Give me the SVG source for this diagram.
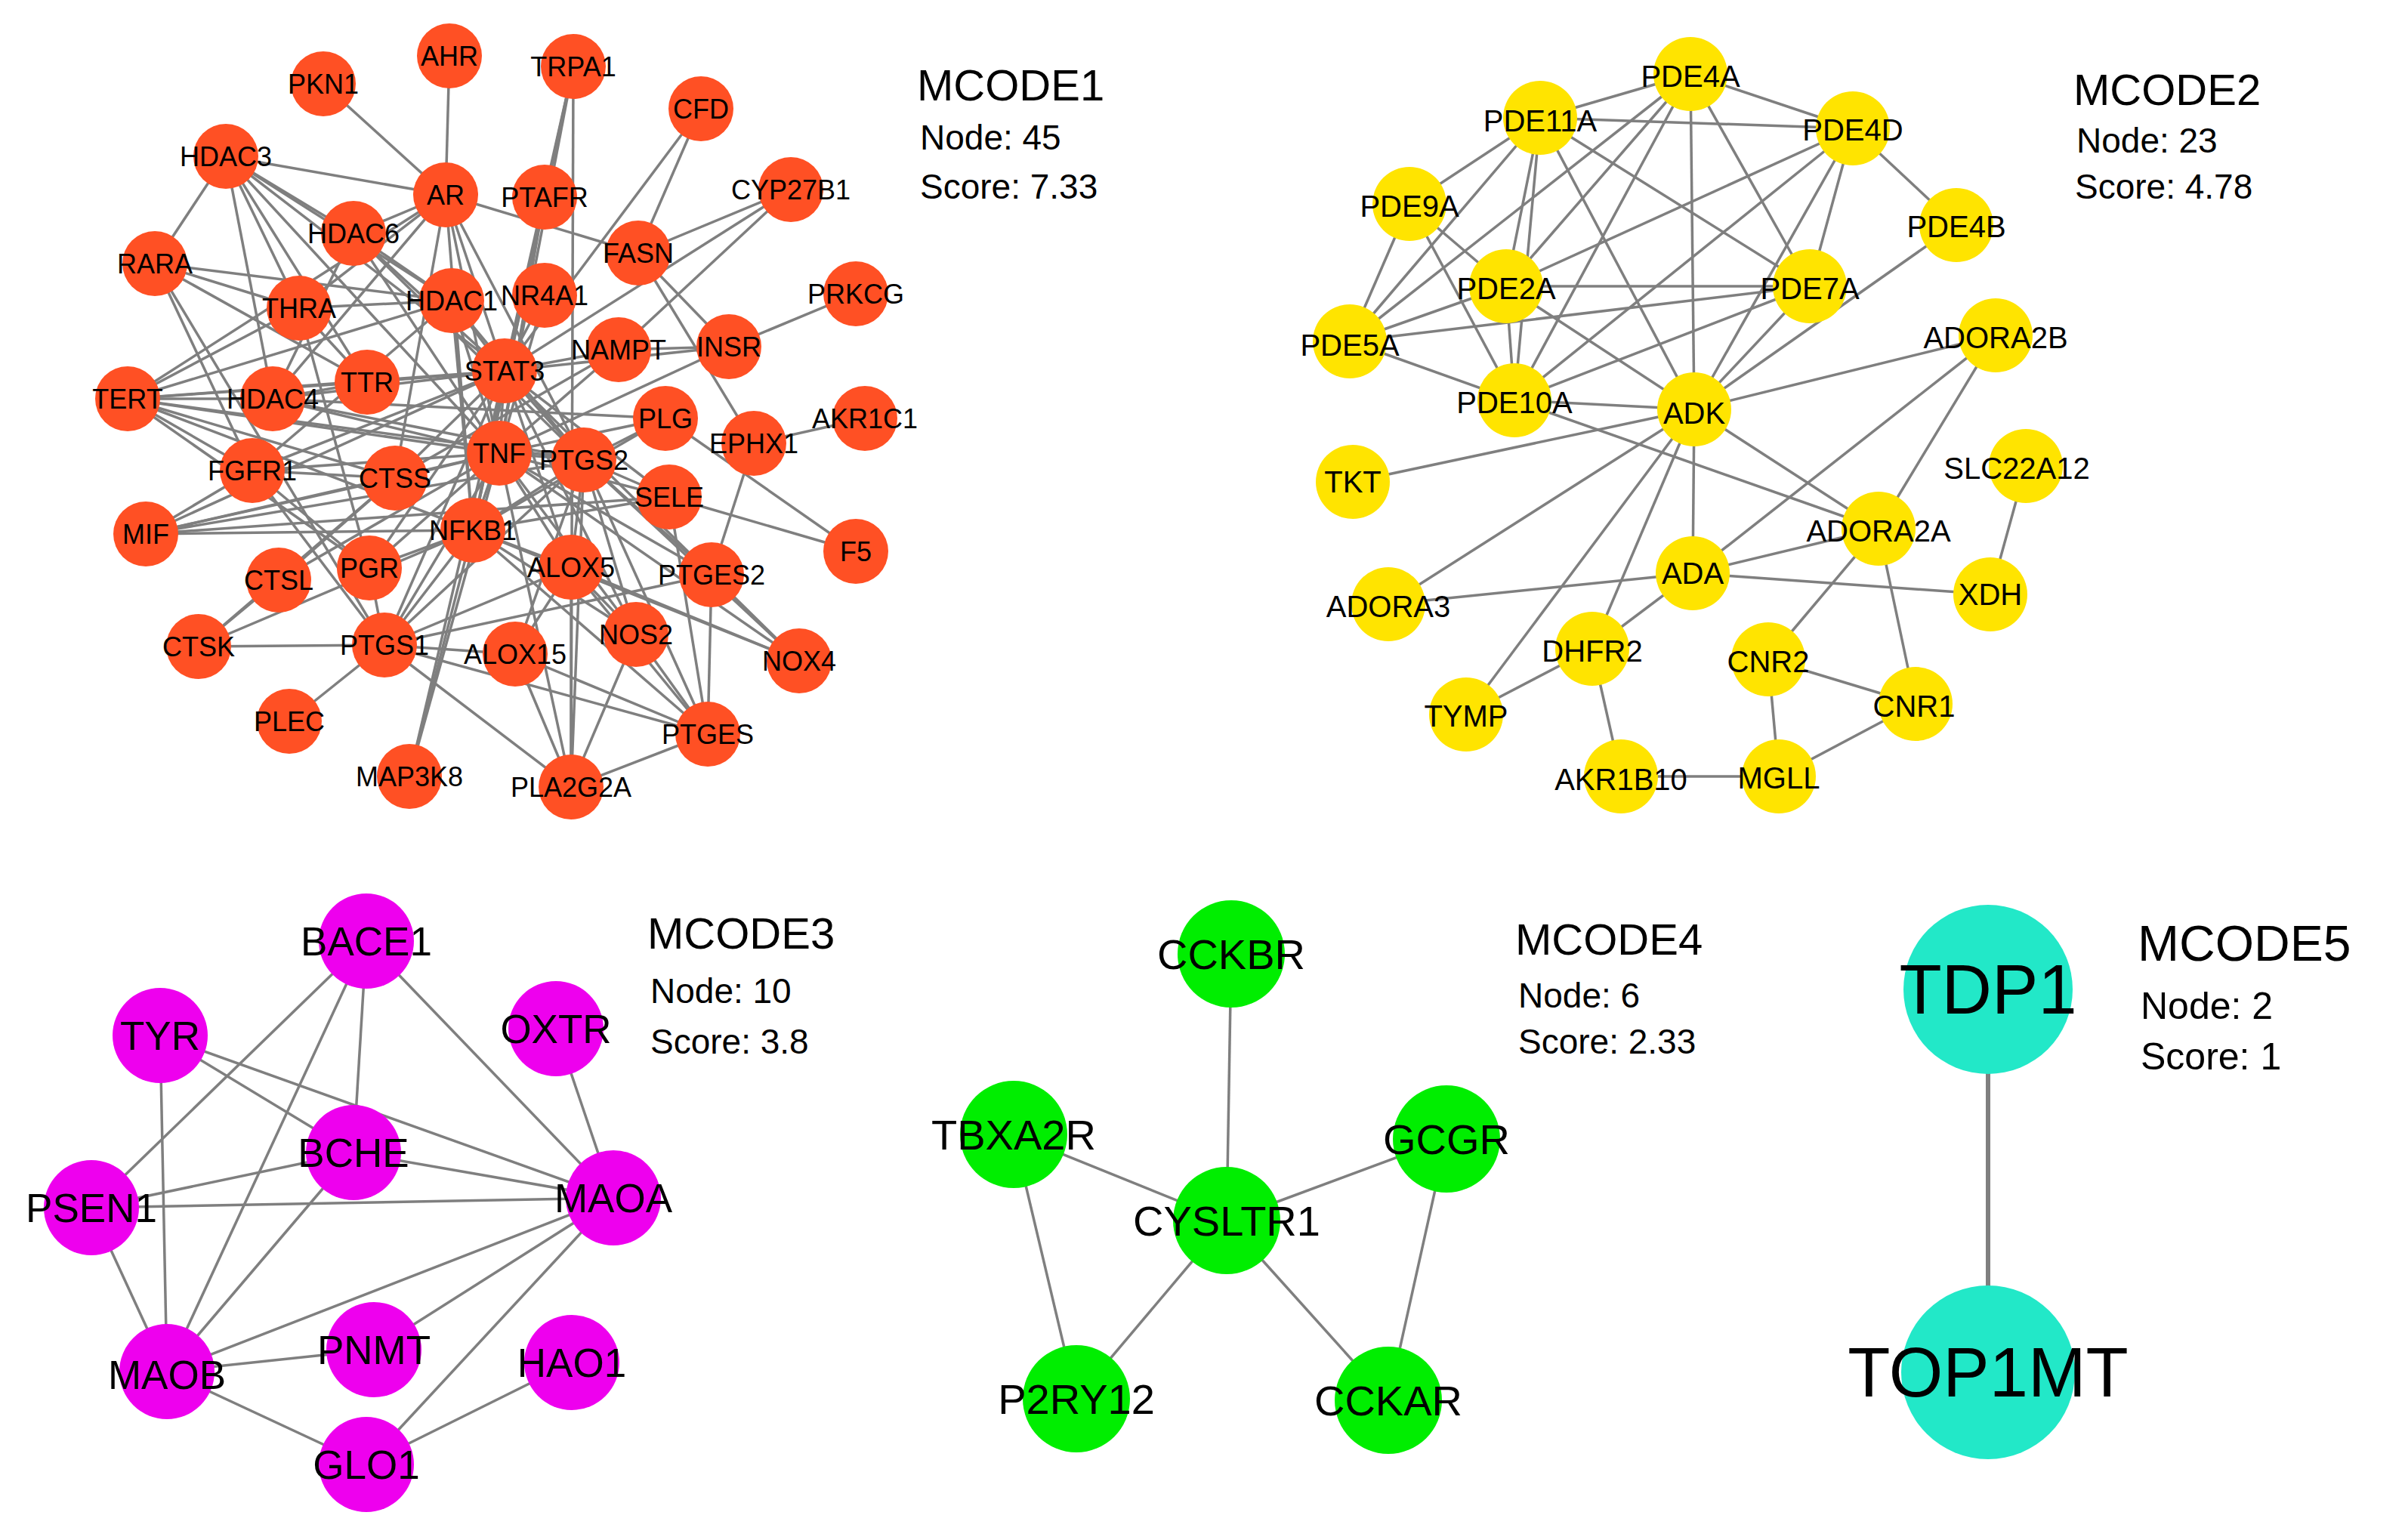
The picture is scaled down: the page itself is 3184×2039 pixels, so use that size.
<svg xmlns="http://www.w3.org/2000/svg" width="3184" height="2039" viewBox="0 0 3184 2039">
<style>
text{font-family:"Liberation Sans",Arial,sans-serif;fill:#000;text-anchor:middle;dominant-baseline:central}
.e line{stroke:#7f7f7f;stroke-width:3.5}
.o{fill:#ff5024}.y{fill:#ffe400}.m{fill:#ee00ee}.g{fill:#00ee00}.c{fill:#22e8c8}
.t1{font-size:36px}.t2{font-size:40px}.t3{font-size:53px}.t4{font-size:56px}.t5{font-size:92px}
.h{text-anchor:start;dominant-baseline:auto}
</style>
<g class="e" id="edges1">
<line x1="428" y1="111" x2="590" y2="258"/><line x1="595" y1="74" x2="590" y2="258"/>
<line x1="759" y1="88" x2="721" y2="261"/><line x1="759" y1="88" x2="668" y2="491"/><line x1="759" y1="88" x2="661" y2="600"/><line x1="759" y1="88" x2="626" y2="702"/><line x1="759" y1="88" x2="756" y2="1042"/>
<line x1="928" y1="144" x2="845" y2="335"/><line x1="928" y1="144" x2="668" y2="491"/>
<line x1="299" y1="207" x2="590" y2="258"/><line x1="299" y1="207" x2="205" y2="349"/><line x1="299" y1="207" x2="468" y2="309"/><line x1="299" y1="207" x2="598" y2="398"/><line x1="299" y1="207" x2="668" y2="491"/><line x1="299" y1="207" x2="396" y2="408"/><line x1="299" y1="207" x2="361" y2="528"/><line x1="299" y1="207" x2="486" y2="506"/><line x1="299" y1="207" x2="661" y2="600"/>
<line x1="590" y1="258" x2="845" y2="335"/><line x1="590" y1="258" x2="468" y2="309"/><line x1="590" y1="258" x2="396" y2="408"/><line x1="590" y1="258" x2="361" y2="528"/><line x1="590" y1="258" x2="668" y2="491"/><line x1="590" y1="258" x2="661" y2="600"/><line x1="590" y1="258" x2="626" y2="702"/><line x1="590" y1="258" x2="773" y2="609"/><line x1="590" y1="258" x2="523" y2="633"/><line x1="590" y1="258" x2="169" y2="528"/>
<line x1="1047" y1="251" x2="845" y2="335"/><line x1="1047" y1="251" x2="819" y2="463"/><line x1="1047" y1="251" x2="668" y2="491"/>
<line x1="468" y1="309" x2="598" y2="398"/><line x1="468" y1="309" x2="668" y2="491"/><line x1="468" y1="309" x2="661" y2="600"/><line x1="468" y1="309" x2="361" y2="528"/><line x1="468" y1="309" x2="773" y2="609"/>
<line x1="205" y1="349" x2="598" y2="398"/><line x1="205" y1="349" x2="396" y2="408"/><line x1="205" y1="349" x2="334" y2="623"/><line x1="205" y1="349" x2="486" y2="506"/><line x1="205" y1="349" x2="509" y2="854"/>
<line x1="396" y1="408" x2="598" y2="398"/><line x1="396" y1="408" x2="486" y2="506"/><line x1="396" y1="408" x2="169" y2="528"/><line x1="396" y1="408" x2="489" y2="752"/>
<line x1="598" y1="398" x2="668" y2="491"/><line x1="598" y1="398" x2="661" y2="600"/><line x1="598" y1="398" x2="626" y2="702"/><line x1="598" y1="398" x2="169" y2="528"/><line x1="598" y1="398" x2="773" y2="609"/><line x1="598" y1="398" x2="334" y2="623"/>
<line x1="721" y1="391" x2="668" y2="491"/><line x1="721" y1="391" x2="661" y2="600"/><line x1="721" y1="261" x2="626" y2="702"/><line x1="721" y1="261" x2="661" y2="600"/>
<line x1="1133" y1="389" x2="965" y2="459"/>
<line x1="819" y1="463" x2="965" y2="459"/><line x1="819" y1="463" x2="668" y2="491"/><line x1="819" y1="463" x2="661" y2="600"/><line x1="819" y1="463" x2="523" y2="633"/>
<line x1="965" y1="459" x2="845" y2="335"/><line x1="965" y1="459" x2="668" y2="491"/><line x1="965" y1="459" x2="661" y2="600"/>
<line x1="668" y1="491" x2="169" y2="528"/><line x1="668" y1="491" x2="361" y2="528"/><line x1="668" y1="491" x2="486" y2="506"/><line x1="668" y1="491" x2="661" y2="600"/><line x1="668" y1="491" x2="773" y2="609"/><line x1="668" y1="491" x2="626" y2="702"/><line x1="668" y1="491" x2="334" y2="623"/><line x1="668" y1="491" x2="523" y2="633"/><line x1="668" y1="491" x2="509" y2="854"/><line x1="668" y1="491" x2="756" y2="751"/><line x1="668" y1="491" x2="489" y2="752"/><line x1="668" y1="491" x2="886" y2="658"/><line x1="668" y1="491" x2="942" y2="761"/><line x1="668" y1="491" x2="842" y2="840"/><line x1="668" y1="491" x2="193" y2="707"/><line x1="668" y1="491" x2="542" y2="1028"/>
<line x1="169" y1="528" x2="361" y2="528"/><line x1="169" y1="528" x2="486" y2="506"/><line x1="169" y1="528" x2="661" y2="600"/><line x1="169" y1="528" x2="523" y2="633"/><line x1="169" y1="528" x2="334" y2="623"/><line x1="169" y1="528" x2="626" y2="702"/><line x1="169" y1="528" x2="773" y2="609"/><line x1="169" y1="528" x2="489" y2="752"/>
<line x1="361" y1="528" x2="661" y2="600"/><line x1="361" y1="528" x2="881" y2="554"/><line x1="361" y1="528" x2="773" y2="609"/><line x1="361" y1="528" x2="486" y2="506"/>
<line x1="881" y1="554" x2="661" y2="600"/><line x1="881" y1="554" x2="773" y2="609"/><line x1="881" y1="554" x2="626" y2="702"/><line x1="881" y1="554" x2="1133" y2="730"/>
<line x1="998" y1="587" x2="1145" y2="554"/><line x1="998" y1="587" x2="845" y2="335"/><line x1="998" y1="587" x2="942" y2="761"/>
<line x1="334" y1="623" x2="661" y2="600"/><line x1="334" y1="623" x2="523" y2="633"/><line x1="334" y1="623" x2="193" y2="707"/><line x1="334" y1="623" x2="509" y2="854"/><line x1="334" y1="623" x2="489" y2="752"/>
<line x1="523" y1="633" x2="661" y2="600"/><line x1="523" y1="633" x2="263" y2="856"/><line x1="523" y1="633" x2="369" y2="768"/><line x1="523" y1="633" x2="193" y2="707"/>
<line x1="661" y1="600" x2="773" y2="609"/><line x1="661" y1="600" x2="626" y2="702"/><line x1="661" y1="600" x2="886" y2="658"/><line x1="661" y1="600" x2="756" y2="751"/><line x1="661" y1="600" x2="942" y2="761"/><line x1="661" y1="600" x2="842" y2="840"/><line x1="661" y1="600" x2="193" y2="707"/><line x1="661" y1="600" x2="489" y2="752"/><line x1="661" y1="600" x2="509" y2="854"/><line x1="661" y1="600" x2="369" y2="768"/><line x1="661" y1="600" x2="1058" y2="875"/><line x1="661" y1="600" x2="542" y2="1028"/><line x1="661" y1="600" x2="756" y2="1042"/>
<line x1="773" y1="609" x2="626" y2="702"/><line x1="773" y1="609" x2="886" y2="658"/><line x1="773" y1="609" x2="756" y2="751"/><line x1="773" y1="609" x2="942" y2="761"/><line x1="773" y1="609" x2="842" y2="840"/><line x1="773" y1="609" x2="937" y2="972"/><line x1="773" y1="609" x2="509" y2="854"/><line x1="773" y1="609" x2="756" y2="1042"/><line x1="773" y1="609" x2="1058" y2="875"/><line x1="773" y1="609" x2="193" y2="707"/><line x1="773" y1="609" x2="682" y2="866"/>
<line x1="886" y1="658" x2="626" y2="702"/><line x1="886" y1="658" x2="1133" y2="730"/><line x1="886" y1="658" x2="193" y2="707"/><line x1="886" y1="658" x2="937" y2="972"/>
<line x1="626" y1="702" x2="193" y2="707"/><line x1="626" y1="702" x2="489" y2="752"/><line x1="626" y1="702" x2="509" y2="854"/><line x1="626" y1="702" x2="756" y2="751"/><line x1="626" y1="702" x2="842" y2="840"/><line x1="626" y1="702" x2="542" y2="1028"/><line x1="626" y1="702" x2="263" y2="856"/><line x1="626" y1="702" x2="937" y2="972"/><line x1="626" y1="702" x2="1058" y2="875"/>
<line x1="756" y1="751" x2="509" y2="854"/><line x1="756" y1="751" x2="756" y2="1042"/><line x1="756" y1="751" x2="682" y2="866"/><line x1="756" y1="751" x2="937" y2="972"/><line x1="756" y1="751" x2="842" y2="840"/><line x1="756" y1="751" x2="1058" y2="875"/>
<line x1="942" y1="761" x2="937" y2="972"/><line x1="942" y1="761" x2="1058" y2="875"/><line x1="842" y1="840" x2="937" y2="972"/><line x1="842" y1="840" x2="756" y2="1042"/>
<line x1="263" y1="856" x2="509" y2="854"/><line x1="263" y1="856" x2="369" y2="768"/><line x1="383" y1="955" x2="509" y2="854"/>
<line x1="509" y1="854" x2="756" y2="1042"/><line x1="509" y1="854" x2="937" y2="972"/><line x1="509" y1="854" x2="682" y2="866"/><line x1="509" y1="854" x2="489" y2="752"/><line x1="509" y1="854" x2="942" y2="761"/>
<line x1="682" y1="866" x2="756" y2="1042"/><line x1="682" y1="866" x2="937" y2="972"/><line x1="756" y1="1042" x2="937" y2="972"/>
</g>
<g class="e" id="edges2">
<line x1="2238" y1="98" x2="2039" y2="156"/><line x1="2238" y1="98" x2="2453" y2="170"/><line x1="2238" y1="98" x2="2243" y2="542"/><line x1="2238" y1="98" x2="2396" y2="379"/><line x1="2238" y1="98" x2="1994" y2="379"/><line x1="2238" y1="98" x2="2005" y2="530"/><line x1="2238" y1="98" x2="1787" y2="452"/>
<line x1="2039" y1="156" x2="2453" y2="170"/><line x1="2039" y1="156" x2="1866" y2="270"/><line x1="2039" y1="156" x2="1787" y2="452"/><line x1="2039" y1="156" x2="1994" y2="379"/><line x1="2039" y1="156" x2="2005" y2="530"/><line x1="2039" y1="156" x2="2396" y2="379"/><line x1="2039" y1="156" x2="2243" y2="542"/>
<line x1="2453" y1="170" x2="2590" y2="298"/><line x1="2453" y1="170" x2="1994" y2="379"/><line x1="2453" y1="170" x2="2005" y2="530"/><line x1="2453" y1="170" x2="2396" y2="379"/><line x1="2453" y1="170" x2="2243" y2="542"/>
<line x1="1866" y1="270" x2="1787" y2="452"/><line x1="1866" y1="270" x2="1994" y2="379"/><line x1="1866" y1="270" x2="2005" y2="530"/>
<line x1="2590" y1="298" x2="2243" y2="542"/>
<line x1="1994" y1="379" x2="2396" y2="379"/><line x1="1994" y1="379" x2="1787" y2="452"/><line x1="1994" y1="379" x2="2005" y2="530"/><line x1="1994" y1="379" x2="2243" y2="542"/>
<line x1="2396" y1="379" x2="1787" y2="452"/><line x1="2396" y1="379" x2="2005" y2="530"/><line x1="2396" y1="379" x2="2243" y2="542"/>
<line x1="1787" y1="452" x2="2005" y2="530"/><line x1="2005" y1="530" x2="2243" y2="542"/><line x1="2005" y1="530" x2="2487" y2="700"/>
<line x1="2243" y1="542" x2="2642" y2="444"/><line x1="2243" y1="542" x2="1791" y2="638"/><line x1="2243" y1="542" x2="2241" y2="759"/><line x1="2243" y1="542" x2="2487" y2="700"/><line x1="2243" y1="542" x2="1838" y2="800"/><line x1="2243" y1="542" x2="2108" y2="859"/><line x1="2243" y1="542" x2="1941" y2="946"/>
<line x1="2642" y1="444" x2="2241" y2="759"/><line x1="2642" y1="444" x2="2487" y2="700"/><line x1="2682" y1="617" x2="2635" y2="787"/>
<line x1="2487" y1="700" x2="2241" y2="759"/><line x1="2487" y1="700" x2="2341" y2="873"/><line x1="2487" y1="700" x2="2536" y2="932"/>
<line x1="2241" y1="759" x2="1838" y2="800"/><line x1="2241" y1="759" x2="2635" y2="787"/><line x1="2241" y1="759" x2="2108" y2="859"/>
<line x1="2108" y1="859" x2="1941" y2="946"/><line x1="2108" y1="859" x2="2146" y2="1028"/><line x1="2341" y1="873" x2="2536" y2="932"/><line x1="2341" y1="873" x2="2355" y2="1028"/><line x1="2536" y1="932" x2="2355" y2="1028"/><line x1="2146" y1="1028" x2="2355" y2="1028"/>
</g>
<g class="e" id="edges3">
<line x1="485" y1="1246" x2="121" y2="1599"/><line x1="485" y1="1246" x2="221" y2="1816"/><line x1="485" y1="1246" x2="468" y2="1526"/><line x1="485" y1="1246" x2="812" y2="1586"/>
<line x1="212" y1="1371" x2="221" y2="1816"/><line x1="212" y1="1371" x2="468" y2="1526"/><line x1="212" y1="1371" x2="812" y2="1586"/><line x1="736" y1="1362" x2="812" y2="1586"/>
<line x1="468" y1="1526" x2="121" y2="1599"/><line x1="468" y1="1526" x2="812" y2="1586"/><line x1="468" y1="1526" x2="221" y2="1816"/>
<line x1="121" y1="1599" x2="812" y2="1586"/><line x1="121" y1="1599" x2="221" y2="1816"/>
<line x1="812" y1="1586" x2="221" y2="1816"/><line x1="812" y1="1586" x2="495" y2="1787"/><line x1="812" y1="1586" x2="485" y2="1939"/>
<line x1="221" y1="1816" x2="495" y2="1787"/><line x1="221" y1="1816" x2="485" y2="1939"/><line x1="757" y1="1804" x2="485" y2="1939"/>
</g>
<g class="e" id="edges4">
<line x1="1630" y1="1263" x2="1624" y2="1616"/><line x1="1342" y1="1502" x2="1624" y2="1616"/><line x1="1915" y1="1508" x2="1624" y2="1616"/><line x1="1425" y1="1852" x2="1624" y2="1616"/><line x1="1838" y1="1854" x2="1624" y2="1616"/><line x1="1342" y1="1502" x2="1425" y2="1852"/><line x1="1915" y1="1508" x2="1838" y2="1854"/>
</g>
<g class="e" id="edges5"><line x1="2632" y1="1310" x2="2632" y2="1817" style="stroke-width:6"/></g>

<g id="n-PKN1"><circle class="o" cx="428" cy="111" r="43"/><text class="t1" x="428" y="111">PKN1</text></g>
<g id="n-AHR"><circle class="o" cx="595" cy="74" r="43"/><text class="t1" x="595" y="74">AHR</text></g>
<g id="n-TRPA1"><circle class="o" cx="759" cy="88" r="43"/><text class="t1" x="759" y="88">TRPA1</text></g>
<g id="n-CFD"><circle class="o" cx="928" cy="144" r="43"/><text class="t1" x="928" y="144">CFD</text></g>
<g id="n-HDAC3"><circle class="o" cx="299" cy="207" r="43"/><text class="t1" x="299" y="207">HDAC3</text></g>
<g id="n-AR"><circle class="o" cx="590" cy="258" r="43"/><text class="t1" x="590" y="258">AR</text></g>
<g id="n-PTAFR"><circle class="o" cx="721" cy="261" r="43"/><text class="t1" x="721" y="261">PTAFR</text></g>
<g id="n-CYP27B1"><circle class="o" cx="1047" cy="251" r="43"/><text class="t1" x="1047" y="251">CYP27B1</text></g>
<g id="n-HDAC6"><circle class="o" cx="468" cy="309" r="43"/><text class="t1" x="468" y="309">HDAC6</text></g>
<g id="n-FASN"><circle class="o" cx="845" cy="335" r="43"/><text class="t1" x="845" y="335">FASN</text></g>
<g id="n-RARA"><circle class="o" cx="205" cy="349" r="43"/><text class="t1" x="205" y="349">RARA</text></g>
<g id="n-THRA"><circle class="o" cx="396" cy="408" r="43"/><text class="t1" x="396" y="408">THRA</text></g>
<g id="n-HDAC1"><circle class="o" cx="598" cy="398" r="43"/><text class="t1" x="598" y="398">HDAC1</text></g>
<g id="n-NR4A1"><circle class="o" cx="721" cy="391" r="43"/><text class="t1" x="721" y="391">NR4A1</text></g>
<g id="n-PRKCG"><circle class="o" cx="1133" cy="389" r="43"/><text class="t1" x="1133" y="389">PRKCG</text></g>
<g id="n-NAMPT"><circle class="o" cx="819" cy="463" r="43"/><text class="t1" x="819" y="463">NAMPT</text></g>
<g id="n-INSR"><circle class="o" cx="965" cy="459" r="43"/><text class="t1" x="965" y="459">INSR</text></g>
<g id="n-STAT3"><circle class="o" cx="668" cy="491" r="43"/><text class="t1" x="668" y="491">STAT3</text></g>
<g id="n-TERT"><circle class="o" cx="169" cy="528" r="43"/><text class="t1" x="169" y="528">TERT</text></g>
<g id="n-HDAC4"><circle class="o" cx="361" cy="528" r="43"/><text class="t1" x="361" y="528">HDAC4</text></g>
<g id="n-TTR"><circle class="o" cx="486" cy="506" r="43"/><text class="t1" x="486" y="506">TTR</text></g>
<g id="n-PLG"><circle class="o" cx="881" cy="554" r="43"/><text class="t1" x="881" y="554">PLG</text></g>
<g id="n-EPHX1"><circle class="o" cx="998" cy="587" r="43"/><text class="t1" x="998" y="587">EPHX1</text></g>
<g id="n-AKR1C1"><circle class="o" cx="1145" cy="554" r="43"/><text class="t1" x="1145" y="554">AKR1C1</text></g>
<g id="n-FGFR1"><circle class="o" cx="334" cy="623" r="43"/><text class="t1" x="334" y="623">FGFR1</text></g>
<g id="n-CTSS"><circle class="o" cx="523" cy="633" r="43"/><text class="t1" x="523" y="633">CTSS</text></g>
<g id="n-TNF"><circle class="o" cx="661" cy="600" r="43"/><text class="t1" x="661" y="600">TNF</text></g>
<g id="n-PTGS2"><circle class="o" cx="773" cy="609" r="43"/><text class="t1" x="773" y="609">PTGS2</text></g>
<g id="n-SELE"><circle class="o" cx="886" cy="658" r="43"/><text class="t1" x="886" y="658">SELE</text></g>
<g id="n-MIF"><circle class="o" cx="193" cy="707" r="43"/><text class="t1" x="193" y="707">MIF</text></g>
<g id="n-NFKB1"><circle class="o" cx="626" cy="702" r="43"/><text class="t1" x="626" y="702">NFKB1</text></g>
<g id="n-PGR"><circle class="o" cx="489" cy="752" r="43"/><text class="t1" x="489" y="752">PGR</text></g>
<g id="n-ALOX5"><circle class="o" cx="756" cy="751" r="43"/><text class="t1" x="756" y="751">ALOX5</text></g>
<g id="n-PTGES2"><circle class="o" cx="942" cy="761" r="43"/><text class="t1" x="942" y="761">PTGES2</text></g>
<g id="n-F5"><circle class="o" cx="1133" cy="730" r="43"/><text class="t1" x="1133" y="730">F5</text></g>
<g id="n-CTSL"><circle class="o" cx="369" cy="768" r="43"/><text class="t1" x="369" y="768">CTSL</text></g>
<g id="n-NOS2"><circle class="o" cx="842" cy="840" r="43"/><text class="t1" x="842" y="840">NOS2</text></g>
<g id="n-CTSK"><circle class="o" cx="263" cy="856" r="43"/><text class="t1" x="263" y="856">CTSK</text></g>
<g id="n-PTGS1"><circle class="o" cx="509" cy="854" r="43"/><text class="t1" x="509" y="854">PTGS1</text></g>
<g id="n-ALOX15"><circle class="o" cx="682" cy="866" r="43"/><text class="t1" x="682" y="866">ALOX15</text></g>
<g id="n-NOX4"><circle class="o" cx="1058" cy="875" r="43"/><text class="t1" x="1058" y="875">NOX4</text></g>
<g id="n-PLEC"><circle class="o" cx="383" cy="955" r="43"/><text class="t1" x="383" y="955">PLEC</text></g>
<g id="n-PTGES"><circle class="o" cx="937" cy="972" r="43"/><text class="t1" x="937" y="972">PTGES</text></g>
<g id="n-MAP3K8"><circle class="o" cx="542" cy="1028" r="43"/><text class="t1" x="542" y="1028">MAP3K8</text></g>
<g id="n-PLA2G2A"><circle class="o" cx="756" cy="1042" r="43"/><text class="t1" x="756" y="1042">PLA2G2A</text></g>

<g id="n-PDE4A"><circle class="y" cx="2238" cy="98" r="49"/><text class="t2" x="2238" y="101">PDE4A</text></g>
<g id="n-PDE11A"><circle class="y" cx="2039" cy="156" r="49"/><text class="t2" x="2039" y="160">PDE11A</text></g>
<g id="n-PDE4D"><circle class="y" cx="2453" cy="170" r="49"/><text class="t2" x="2453" y="172">PDE4D</text></g>
<g id="n-PDE9A"><circle class="y" cx="1866" cy="270" r="49"/><text class="t2" x="1866" y="273">PDE9A</text></g>
<g id="n-PDE4B"><circle class="y" cx="2590" cy="298" r="49"/><text class="t2" x="2590" y="300">PDE4B</text></g>
<g id="n-PDE2A"><circle class="y" cx="1994" cy="379" r="49"/><text class="t2" x="1994" y="382">PDE2A</text></g>
<g id="n-PDE7A"><circle class="y" cx="2396" cy="379" r="49"/><text class="t2" x="2396" y="382">PDE7A</text></g>
<g id="n-PDE5A"><circle class="y" cx="1787" cy="452" r="49"/><text class="t2" x="1787" y="457">PDE5A</text></g>
<g id="n-ADORA2B"><circle class="y" cx="2642" cy="444" r="49"/><text class="t2" x="2642" y="447">ADORA2B</text></g>
<g id="n-PDE10A"><circle class="y" cx="2005" cy="530" r="49"/><text class="t2" x="2005" y="533">PDE10A</text></g>
<g id="n-ADK"><circle class="y" cx="2243" cy="542" r="49"/><text class="t2" x="2243" y="547">ADK</text></g>
<g id="n-TKT"><circle class="y" cx="1791" cy="638" r="49"/><text class="t2" x="1791" y="638">TKT</text></g>
<g id="n-SLC22A12"><circle class="y" cx="2682" cy="617" r="49"/><text class="t2" x="2670" y="620">SLC22A12</text></g>
<g id="n-ADORA2A"><circle class="y" cx="2487" cy="700" r="49"/><text class="t2" x="2487" y="703">ADORA2A</text></g>
<g id="n-ADA"><circle class="y" cx="2241" cy="759" r="49"/><text class="t2" x="2241" y="759">ADA</text></g>
<g id="n-XDH"><circle class="y" cx="2635" cy="787" r="49"/><text class="t2" x="2635" y="787">XDH</text></g>
<g id="n-ADORA3"><circle class="y" cx="1838" cy="800" r="49"/><text class="t2" x="1838" y="803">ADORA3</text></g>
<g id="n-DHFR2"><circle class="y" cx="2108" cy="859" r="49"/><text class="t2" x="2108" y="862">DHFR2</text></g>
<g id="n-CNR2"><circle class="y" cx="2341" cy="873" r="49"/><text class="t2" x="2341" y="876">CNR2</text></g>
<g id="n-CNR1"><circle class="y" cx="2536" cy="932" r="49"/><text class="t2" x="2534" y="935">CNR1</text></g>
<g id="n-TYMP"><circle class="y" cx="1941" cy="946" r="49"/><text class="t2" x="1941" y="948">TYMP</text></g>
<g id="n-AKR1B10"><circle class="y" cx="2146" cy="1028" r="49"/><text class="t2" x="2146" y="1032">AKR1B10</text></g>
<g id="n-MGLL"><circle class="y" cx="2355" cy="1028" r="49"/><text class="t2" x="2355" y="1030">MGLL</text></g>

<g id="n-BACE1"><circle class="m" cx="485" cy="1246" r="63"/><text class="t3" x="485" y="1246">BACE1</text></g>
<g id="n-TYR"><circle class="m" cx="212" cy="1371" r="63"/><text class="t3" x="212" y="1371">TYR</text></g>
<g id="n-OXTR"><circle class="m" cx="736" cy="1362" r="63"/><text class="t3" x="736" y="1362">OXTR</text></g>
<g id="n-BCHE"><circle class="m" cx="468" cy="1526" r="63"/><text class="t3" x="468" y="1526">BCHE</text></g>
<g id="n-PSEN1"><circle class="m" cx="121" cy="1599" r="63"/><text class="t3" x="121" y="1599">PSEN1</text></g>
<g id="n-MAOA"><circle class="m" cx="812" cy="1586" r="63"/><text class="t3" x="812" y="1586">MAOA</text></g>
<g id="n-MAOB"><circle class="m" cx="221" cy="1816" r="63"/><text class="t3" x="221" y="1820">MAOB</text></g>
<g id="n-PNMT"><circle class="m" cx="495" cy="1787" r="63"/><text class="t3" x="495" y="1787">PNMT</text></g>
<g id="n-HAO1"><circle class="m" cx="757" cy="1804" r="63"/><text class="t3" x="757" y="1804">HAO1</text></g>
<g id="n-GLO1"><circle class="m" cx="485" cy="1939" r="63"/><text class="t3" x="485" y="1939">GLO1</text></g>

<g id="n-CCKBR"><circle class="g" cx="1630" cy="1263" r="71"/><text class="t4" x="1630" y="1263">CCKBR</text></g>
<g id="n-TBXA2R"><circle class="g" cx="1342" cy="1502" r="71"/><text class="t4" x="1342" y="1502">TBXA2R</text></g>
<g id="n-GCGR"><circle class="g" cx="1915" cy="1508" r="71"/><text class="t4" x="1915" y="1508">GCGR</text></g>
<g id="n-CYSLTR1"><circle class="g" cx="1624" cy="1616" r="71"/><text class="t4" x="1624" y="1616">CYSLTR1</text></g>
<g id="n-P2RY12"><circle class="g" cx="1425" cy="1852" r="71"/><text class="t4" x="1425" y="1852">P2RY12</text></g>
<g id="n-CCKAR"><circle class="g" cx="1838" cy="1854" r="71"/><text class="t4" x="1838" y="1854">CCKAR</text></g>

<g id="n-TDP1"><circle class="c" cx="2632" cy="1310" r="112"/><text class="t5" x="2632" y="1310">TDP1</text></g>
<g id="n-TOP1MT"><circle class="c" cx="2632" cy="1817" r="115"/><text class="t5" x="2632" y="1817">TOP1MT</text></g>

<g id="legends">
<text class="h" x="1214" y="133" font-size="58">MCODE1</text>
<text class="h" x="1218" y="198" font-size="46">Node: 45</text>
<text class="h" x="1218" y="263" font-size="46">Score: 7.33</text>
<text class="h" x="2745" y="139" font-size="58">MCODE2</text>
<text class="h" x="2749" y="202" font-size="46">Node: 23</text>
<text class="h" x="2747" y="263" font-size="46">Score: 4.78</text>
<text class="h" x="857" y="1256" font-size="58">MCODE3</text>
<text class="h" x="861" y="1328" font-size="46">Node: 10</text>
<text class="h" x="861" y="1395" font-size="46">Score: 3.8</text>
<text class="h" x="2006" y="1264" font-size="58">MCODE4</text>
<text class="h" x="2010" y="1334" font-size="46">Node: 6</text>
<text class="h" x="2010" y="1395" font-size="46">Score: 2.33</text>
<text class="h" x="2830" y="1272" font-size="66">MCODE5</text>
<text class="h" x="2834" y="1349" font-size="50">Node: 2</text>
<text class="h" x="2834" y="1416" font-size="50">Score: 1</text>
</g>
</svg>
